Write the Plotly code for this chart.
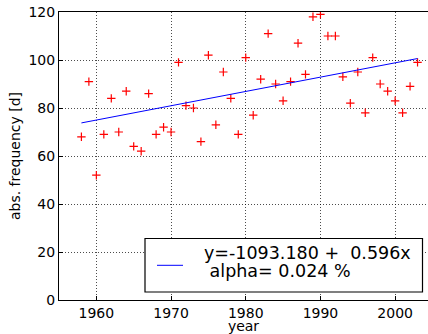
import plotly.graph_objects as go

years = list(range(1958, 2004))
freq = [68, 91, 52, 69, 84, 70, 87, 64, 62, 86, 69, 72, 70, 99, 81, 80, 66, 102, 73, 95,
        84, 69, 101, 77, 92, 111, 90, 83, 91, 107, 94, 118, 119, 110, 110, 93, 82, 95, 78,
        101, 90, 87, 83, 78, 89, 99]

intercept = -1093.180
slope = 0.596
alpha_pct = 0.024

x_fit = [years[0], years[-1]]
y_fit = [intercept + slope * x for x in x_fit]

legend_line1 = f"y={intercept:.3f} +&nbsp;&nbsp;{slope:.3f}x"
legend_line2 = f"&nbsp;alpha= {alpha_pct:.3f} %"

font = "DejaVu Sans, sans-serif"

W, H = 428, 334
ML, MR, MT, MB = 59, 0, 12, 34
PW, PH = W - ML - MR, H - MT - MB


def px(xp):
    return (xp - ML) / PW


def py(yp):
    return (H - MB - yp) / PH


fig = go.Figure()
fig.add_trace(go.Scatter(
    x=years, y=freq, mode="markers",
    marker=dict(symbol="cross-thin", size=6, line=dict(color="red", width=1.2), color="red"),
    showlegend=False,
))
fig.add_trace(go.Scatter(
    x=x_fit, y=y_fit, mode="lines",
    line=dict(color="blue", width=1),
    showlegend=False,
))

axis_common = dict(
    showline=True, linecolor="black", linewidth=1,
    ticks="inside", ticklen=4, tickcolor="black",
    showgrid=True, gridcolor="rgba(0,0,0,0.7)", gridwidth=1, griddash="1px,2px",
    zeroline=False,
    tickfont=dict(family=font, size=14, color="black"),
)

fig.update_xaxes(
    range=[1955, 2004.4], tickvals=[1960, 1970, 1980, 1990, 2000],
    mirror=True,
    title=dict(text="year", font=dict(family=font, size=14, color="black"), standoff=1),
    **axis_common,
)
fig.update_yaxes(
    range=[0, 120], tickvals=[0, 20, 40, 60, 80, 100, 120],
    mirror=False,
    title=dict(text="abs. frequency [d]", font=dict(family=font, size=14, color="black"), standoff=4),
    **axis_common,
)

# legend box (drawn manually to match the reference layout)
fig.add_shape(type="rect", xref="paper", yref="paper",
              x0=px(145), x1=px(422.5), y0=py(292), y1=py(238.5),
              line=dict(color="black", width=1.2), fillcolor="white", layer="above")
fig.add_shape(type="line", xref="paper", yref="paper",
              x0=px(157), x1=px(183), y0=py(265.3), y1=py(265.3),
              line=dict(color="blue", width=1), layer="above")
fs = 17.5
fig.add_annotation(xref="paper", yref="paper", x=px(202), y=py(259.3 - 0.346 * fs),
                   xanchor="left", yanchor="middle", showarrow=False, align="left",
                   text=legend_line1, font=dict(family=font, size=fs, color="black"))
fig.add_annotation(xref="paper", yref="paper", x=px(202), y=py(277 - 0.346 * fs),
                   xanchor="left", yanchor="middle", showarrow=False, align="left",
                   text=legend_line2, font=dict(family=font, size=fs, color="black"))

fig.update_layout(
    width=W, height=H,
    margin=dict(l=ML, r=MR, t=MT, b=MB),
    plot_bgcolor="white", paper_bgcolor="white",
    font=dict(family=font, size=14, color="black"),
    showlegend=False,
)

fig.write_html("out.html")
